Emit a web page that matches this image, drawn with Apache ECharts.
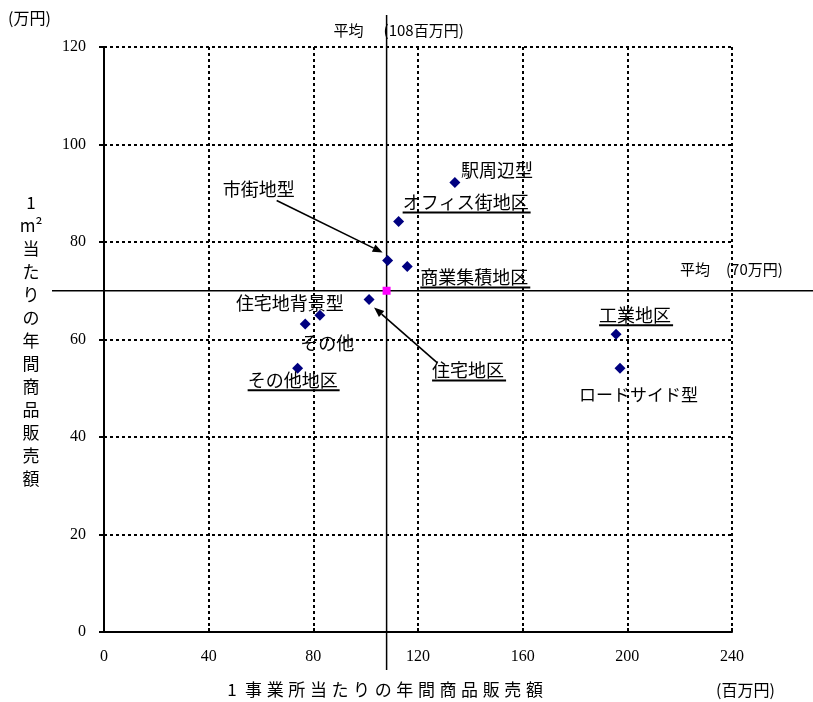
<!DOCTYPE html>
<html>
<head>
<meta charset="utf-8">
<script src="https://cdn.jsdelivr.net/npm/echarts@6/dist/echarts.min.js"></script>
<style>
html,body{margin:0;padding:0;background:#fff;}
#chart{width:813px;height:702px;}
</style>
</head>
<body>
<div id="chart"></div>
<script>
// 地区・類型別：1事業所当たり年間商品販売額（百万円）と1㎡当たり年間商品販売額（万円）
const areaNames = ['駅周辺型', 'オフィス街地区', '市街地型', '商業集積地区', '住宅地区', '住宅地背景型', 'その他', 'その他地区', '工業地区', 'ロードサイド型'];
const salesPerStore = [134.1, 112.6, 108.4, 115.9, 101.3, 82.5, 76.9, 74.0, 195.7, 197.2];
const salesPerArea = [92.2, 84.2, 76.2, 75.0, 68.2, 65.0, 63.2, 54.1, 61.1, 54.1];

// 全体平均
const avgSalesPerStore = 108;
const avgSalesPerArea = 70;

// 軸目盛
const xTickValues = [0, 40, 80, 120, 160, 200, 240];
const yTickValues = [0, 20, 40, 60, 80, 100, 120];

// 表示文字列
const xAxisTitle = ['1', '事', '業', '所', '当', 'た', 'り', 'の', '年', '間', '商', '品', '販', '売', '額'];
const yAxisTitle = ['1', 'm²', '当', 'た', 'り', 'の', '年', '間', '商', '品', '販', '売', '額'];
const xUnit = '(百万円)';
const yUnit = '(万円)';
const avgLabel = '平均';
const avgXValueText = '(' + avgSalesPerStore + '百万円)';
const avgYValueText = '(' + avgSalesPerArea + '万円)';

// ラベル配置（点からのずれ、px）
const labelLayout = {
  '駅周辺型':       { dx: 6,    dy: -12 },
  'オフィス街地区': { dx: 4,    dy: -19, underline: true },
  '市街地型':       { dx: -165, dy: -71, arrow: [-111, -60, -5, -8] },
  '商業集積地区':   { dx: 13,   dy: 11,  underline: true },
  '住宅地区':       { dx: 63,   dy: 71,  underline: true, arrow: [68, 63, 5, 8] },
  '住宅地背景型':   { dx: -84,  dy: -12 },
  'その他':         { dx: -5,   dy: 19 },
  'その他地区':     { dx: -50,  dy: 12,  underline: true },
  '工業地区':       { dx: -17,  dy: -19, underline: true },
  'ロードサイド型': { dx: -41,  dy: 26, size: 17 }
};

const JP = '"Noto Sans CJK JP", "Noto Sans", sans-serif';
const SERIF = '"Liberation Serif", "DejaVu Serif", serif';
const labelSize = 18;

const chart = echarts.init(document.getElementById('chart'), null, { renderer: 'canvas' });

const gridLine = { color: '#000', width: 2, type: [3, 3] };

chart.setOption({
  animation: false,
  backgroundColor: '#fff',
  grid: { left: 104, right: 81, top: 47, bottom: 70 },
  xAxis: {
    type: 'value',
    min: xTickValues[0],
    max: xTickValues[xTickValues.length - 1],
    interval: xTickValues[1] - xTickValues[0],
    axisLine: { show: true, onZero: false, lineStyle: { color: '#000', width: 2 } },
    axisTick: { show: true, inside: true, length: 4, lineStyle: { color: '#000', width: 2 } },
    axisLabel: { color: '#000', fontFamily: SERIF, fontSize: 16, margin: 17 },
    splitLine: { show: true, lineStyle: gridLine }
  },
  yAxis: {
    type: 'value',
    min: yTickValues[0],
    max: yTickValues[yTickValues.length - 1],
    interval: yTickValues[1] - yTickValues[0],
    axisLine: { show: true, onZero: false, lineStyle: { color: '#000', width: 2 } },
    axisTick: { show: true, inside: false, length: 5, lineStyle: { color: '#000', width: 2 } },
    axisLabel: { color: '#000', fontFamily: SERIF, fontSize: 16, margin: 18 },
    splitLine: { show: true, lineStyle: gridLine }
  },
  series: [
    {
      name: '地区・類型',
      type: 'scatter',
      symbol: 'diamond',
      symbolSize: 11,
      itemStyle: { color: '#000080', opacity: 1 },
      z: 5,
      data: salesPerStore.map((v, i) => [v, salesPerArea[i]])
    },
    {
      name: '平均',
      type: 'scatter',
      symbol: 'rect',
      symbolSize: 8,
      itemStyle: { color: '#FF00FF', opacity: 1 },
      z: 6,
      data: [[avgSalesPerStore, avgSalesPerArea]]
    }
  ]
});

// 文字幅の計測
const measureCtx = document.createElement('canvas').getContext('2d');
function textWidth(str, size, family) {
  measureCtx.font = size + 'px ' + family;
  return measureCtx.measureText(str).width;
}

function px(x, y) {
  return chart.convertToPixel({ gridIndex: 0 }, [x, y]);
}

function text(str, x, y, size, family, align) {
  return {
    type: 'text',
    z: 100,
    style: {
      text: str, x: x, y: y,
      fill: '#000',
      font: size + 'px ' + family,
      align: align || 'left',
      verticalAlign: 'middle'
    }
  };
}

function line(x1, y1, x2, y2, w) {
  return {
    type: 'line', z: 3,
    shape: { x1: x1, y1: y1, x2: x2, y2: y2 },
    style: { stroke: '#000', lineWidth: w || 1.5 }
  };
}

function arrow(x1, y1, x2, y2) {
  const ang = Math.atan2(y2 - y1, x2 - x1);
  const L = 10, W = 4;
  const bx = x2 - L * Math.cos(ang), by = y2 - L * Math.sin(ang);
  const nx = -Math.sin(ang) * W, ny = Math.cos(ang) * W;
  return [
    { type: 'line', z: 50, shape: { x1: x1, y1: y1, x2: bx, y2: by }, style: { stroke: '#000', lineWidth: 1.6 } },
    { type: 'polygon', z: 50, shape: { points: [[x2, y2], [bx + nx, by + ny], [bx - nx, by - ny]] }, style: { fill: '#000' } }
  ];
}

const elems = [];
const avgPx = px(avgSalesPerStore, avgSalesPerArea);
const gridTop = px(0, yTickValues[yTickValues.length - 1])[1];
const gridBottom = px(0, 0)[1];

// 平均線
elems.push(line(avgPx[0], gridTop - 32, avgPx[0], gridBottom + 38, 1.5));
elems.push(line(52, avgPx[1], 813, avgPx[1], 1.5));
elems.push(text(avgLabel, avgPx[0] - 53, 30, 15, JP, 'left'));
elems.push(text(avgXValueText, avgPx[0] - 3, 30, 15, JP, 'left'));
elems.push(text(avgLabel, 680, avgPx[1] - 21, 15, JP, 'left'));
elems.push(text(avgYValueText, 726, avgPx[1] - 21, 15, JP, 'left'));

// 各点のラベル
areaNames.forEach((name, i) => {
  const p = px(salesPerStore[i], salesPerArea[i]);
  const lay = labelLayout[name];
  const size = lay.size || labelSize;
  const tx = p[0] + lay.dx, ty = p[1] + lay.dy;
  elems.push(text(name, tx, ty, size, JP, 'left'));
  if (lay.underline) {
    const w = textWidth(name, size, JP);
    elems.push({
      type: 'line', z: 100,
      shape: { x1: tx, y1: ty + 10, x2: tx + w + 2, y2: ty + 10 },
      style: { stroke: '#000', lineWidth: 2 }
    });
  }
  if (lay.arrow) {
    const a = lay.arrow;
    elems.push.apply(elems, arrow(p[0] + a[0], p[1] + a[1], p[0] + a[2], p[1] + a[3]));
  }
});

// 軸タイトル
xAxisTitle.forEach((ch, i) => {
  elems.push(text(ch, 232 + i * 21.6, 690, 17, JP, 'center'));
});
yAxisTitle.forEach((ch, i) => {
  elems.push(text(ch, 31, 203 + i * 23, 17, JP, 'center'));
});
elems.push(text(yUnit, 8, 18, 16, JP, 'left'));
elems.push(text(xUnit, 716, 690, 16, JP, 'left'));

chart.setOption({ graphic: { elements: elems } });
</script>
</body>
</html>
